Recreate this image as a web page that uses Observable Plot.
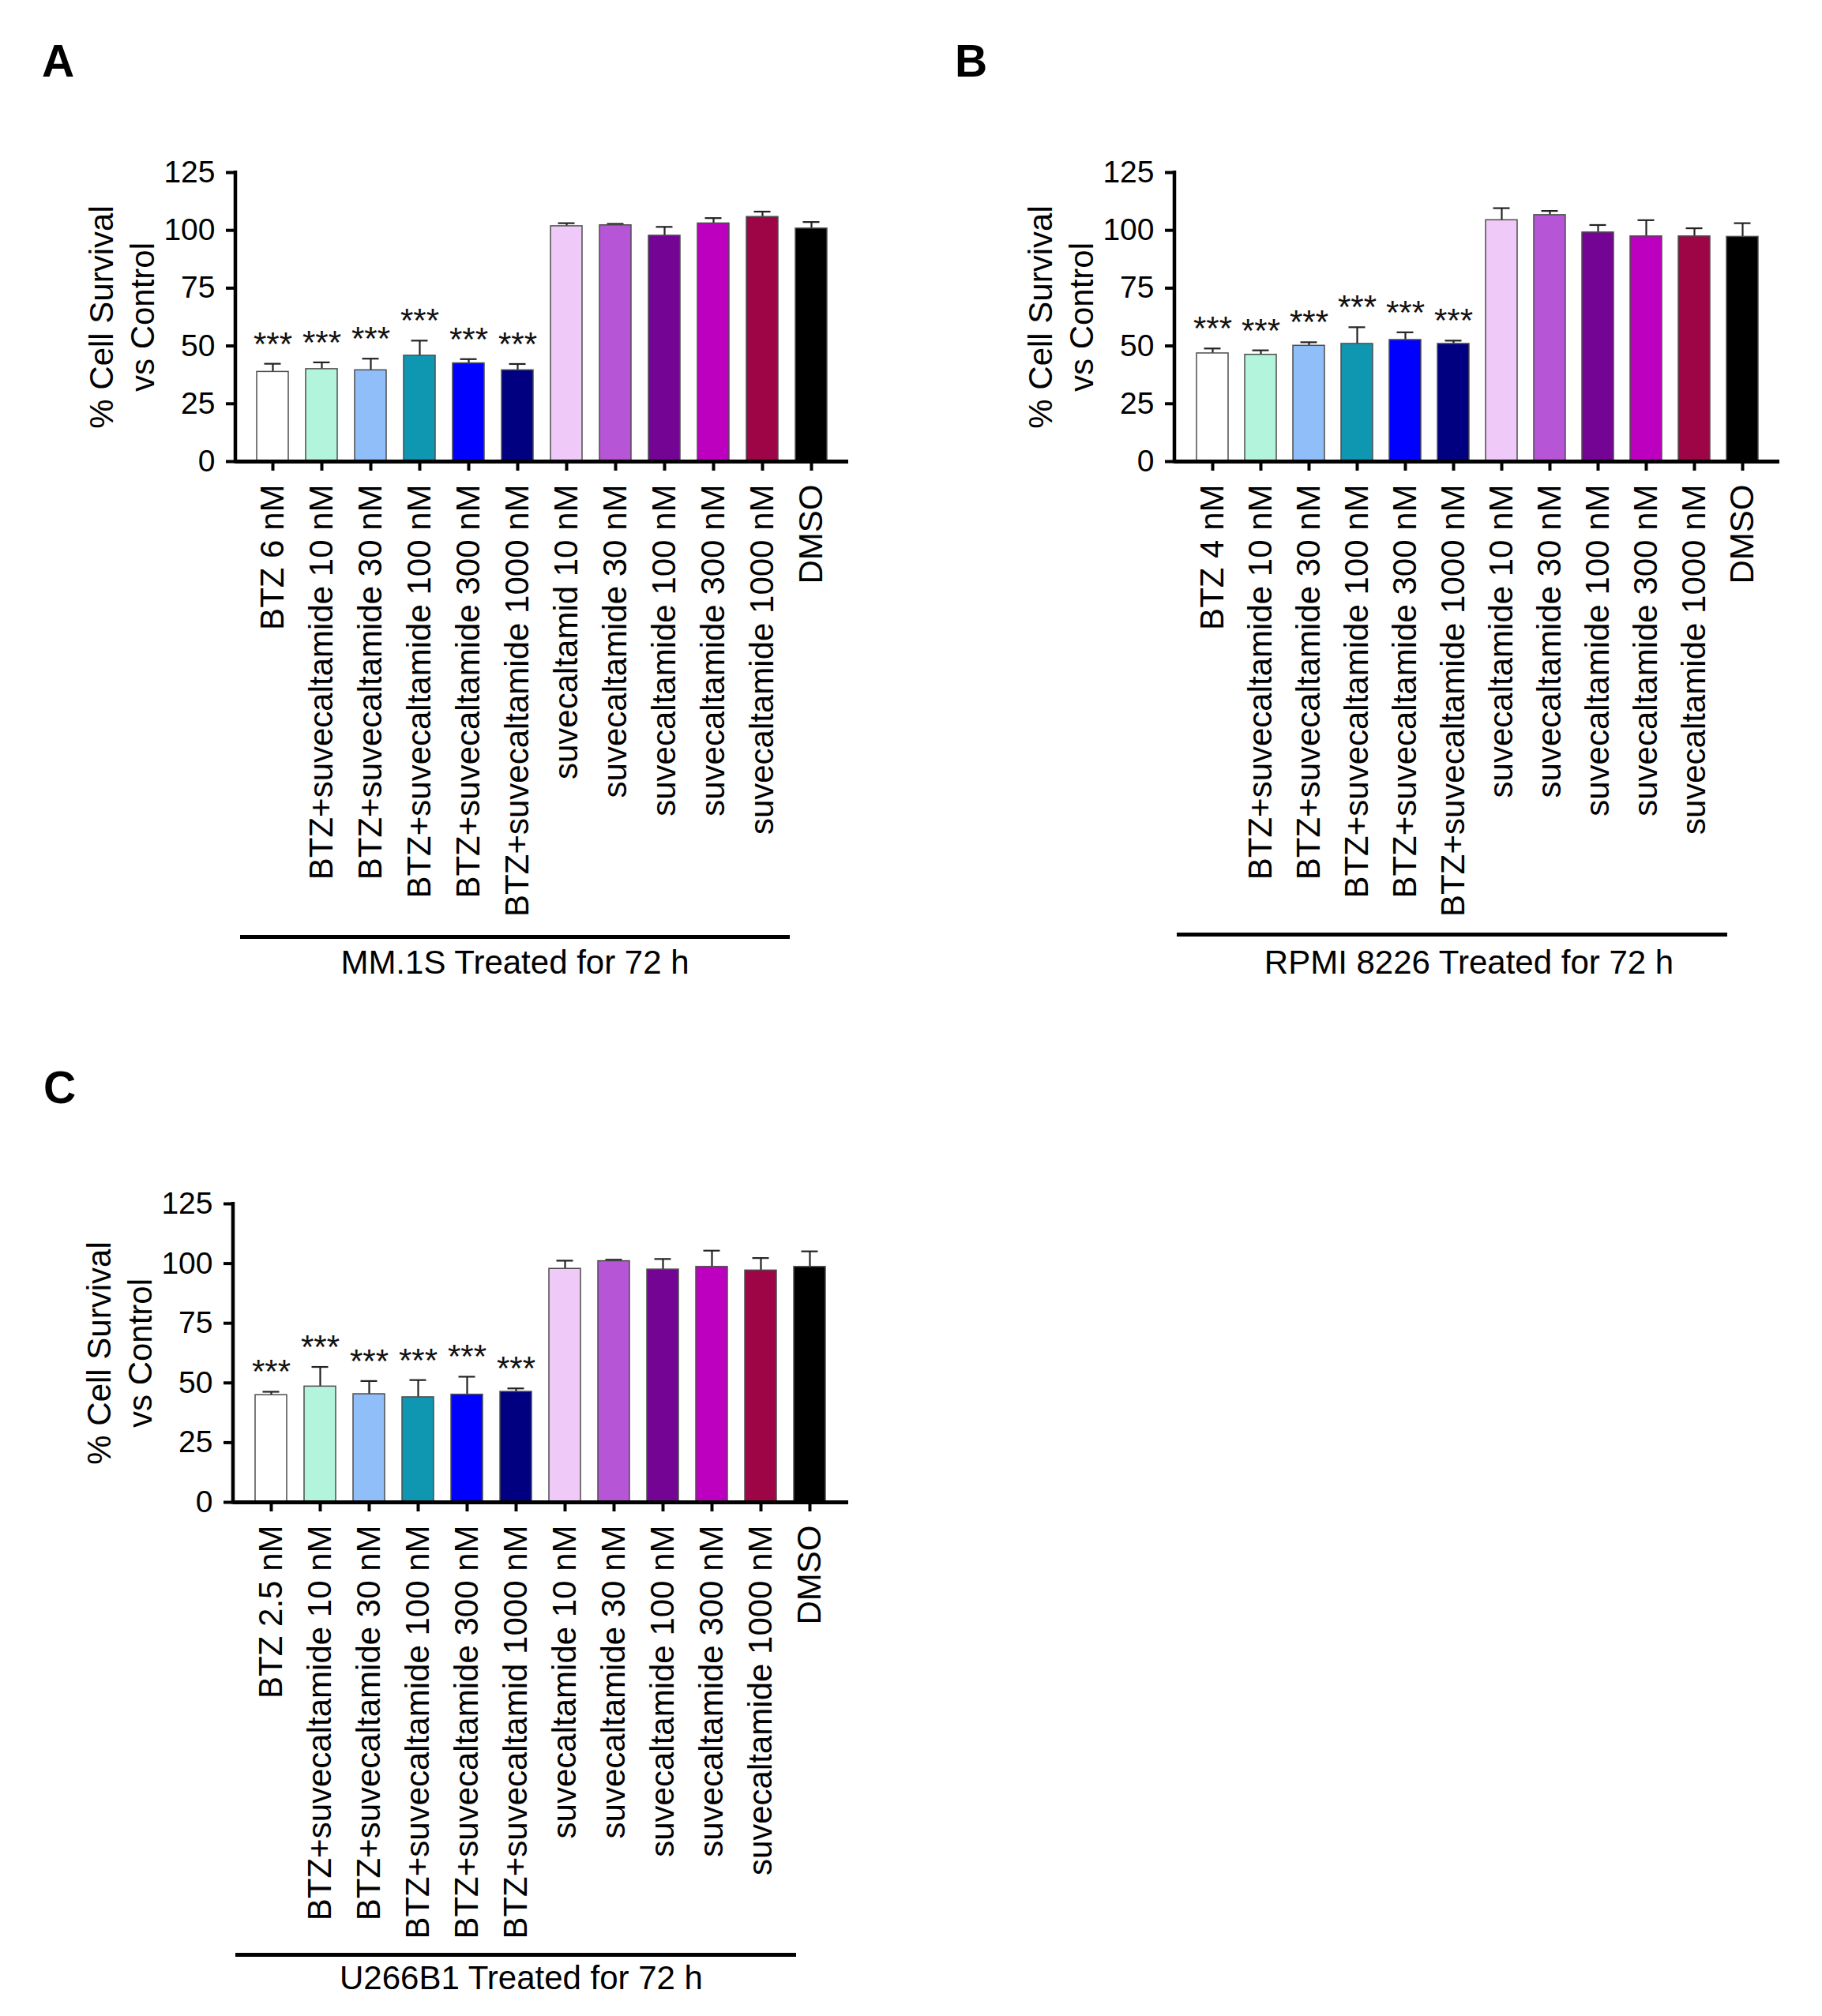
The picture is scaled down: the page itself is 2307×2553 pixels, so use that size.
<!DOCTYPE html>
<html><head><meta charset="utf-8">
<script src="https://cdn.jsdelivr.net/npm/d3@7"></script>
<script src="https://cdn.jsdelivr.net/npm/@observablehq/plot@0.6"></script>
<style>
body{margin:0;background:#fff;}
#page{position:relative;width:2307px;height:2553px;font-family:"Liberation Sans",Arial,sans-serif;color:#000;overflow:hidden;}
.abs{position:absolute;}
.letter{font-weight:bold;font-size:57px;line-height:57px;}
.cap{font-size:42px;line-height:42px;text-align:center;white-space:nowrap;}
.rule{background:#000;height:5px;}
</style></head><body><div id="page"></div>
<script>
// ---- data ----
const labelsA = ["BTZ 6 nM","BTZ+suvecaltamide 10 nM","BTZ+suvecaltamide 30 nM","BTZ+suvecaltamide 100 nM","BTZ+suvecaltamide 300 nM","BTZ+suvecaltamide 1000 nM","suvecaltamid 10 nM","suvecaltamide 30 nM","suvecaltamide 100 nM","suvecaltamide 300 nM","suvecaltamide 1000 nM","DMSO"];
const valuesA = [38.8, 40.0, 39.5, 45.8, 42.5, 39.5, 101.8, 102.2, 97.7, 103.0, 105.8, 100.8];
const errorsA = [3.5, 2.9, 5.0, 6.5, 1.8, 2.7, 1.3, 0.6, 3.8, 2.3, 2.3, 2.8];

const labelsB = ["BTZ 4 nM","BTZ+suvecaltamide 10 nM","BTZ+suvecaltamide 30 nM","BTZ+suvecaltamide 100 nM","BTZ+suvecaltamide 300 nM","BTZ+suvecaltamide 1000 nM","suvecaltamide 10 nM","suvecaltamide 30 nM","suvecaltamide 100 nM","suvecaltamide 300 nM","suvecaltamide 1000 nM","DMSO"];
const valuesB = [46.8, 46.2, 50.1, 50.9, 52.6, 50.9, 104.4, 106.6, 99.1, 97.4, 97.4, 97.2];
const errorsB = [2.1, 1.9, 1.5, 7.2, 3.3, 1.4, 5.2, 1.8, 3.2, 7.0, 3.5, 5.9];

const labelsC = ["BTZ 2.5 nM","BTZ+suvecaltamide 10 nM","BTZ+suvecaltamide 30 nM","BTZ+suvecaltamide 100 nM","BTZ+suvecaltamide 300 nM","BTZ+suvecaltamid 1000 nM","suvecaltamide 10 nM","suvecaltamide 30 nM","suvecaltamide 100 nM","suvecaltamide 300 nM","suvecaltamide 1000 nM","DMSO"];
const valuesC = [44.9, 48.5, 45.3, 44.0, 45.1, 46.3, 97.8, 101.0, 97.5, 98.6, 97.1, 98.6];
const errorsC = [1.4, 8.2, 5.5, 7.2, 7.5, 1.4, 3.4, 0.6, 4.4, 6.8, 5.2, 6.5];

const sigMarks = ["***","***","***","***","***","***","","","","","",""];
const barColors = ["#ffffff","#b3f5dc","#90bef8","#0f96b0","#0000ff","#000080","#efc9f7","#b655d6","#740494","#bd00bf","#9d0547","#000000"];
const yTicks = [0, 25, 50, 75, 100, 125];
const yTitle = "% Cell Survival\nvs Control";
const captions = ["MM.1S Treated for 72 h", "RPMI 8226 Treated for 72 h", "U266B1 Treated for 72 h"];
const letters = ["A", "B", "C"];

const FONT = '"Liberation Sans", Arial, sans-serif';
const page = document.getElementById("page");

function panel(cfg) {
  const data = cfg.labels.map((label, i) => ({label, value: cfg.values[i], err: cfg.errors[i], sig: sigMarks[i], color: barColors[i]}));
  const yAxisLine = (index, scales, values, dims) => {
    const l = document.createElementNS("http://www.w3.org/2000/svg", "line");
    l.setAttribute("x1", dims.marginLeft);
    l.setAttribute("x2", dims.marginLeft);
    l.setAttribute("y1", scales.y(0) + 2.5);
    l.setAttribute("y2", scales.y(125) - 2);
    l.setAttribute("stroke", "#000");
    l.setAttribute("stroke-width", 4.5);
    return l;
  };
  const chart = Plot.plot({
    width: cfg.width, height: cfg.height,
    marginLeft: cfg.ml, marginRight: cfg.mr, marginTop: cfg.mt, marginBottom: cfg.mb,
    style: {background: "transparent", fontFamily: FONT, color: "#000", overflow: "visible"},
    x: {domain: cfg.labels, paddingInner: 0.35, paddingOuter: 0.375, axis: null},
    y: {domain: [0, 125], axis: null},
    color: {type: "identity"},
    marks: [
      Plot.ruleX(data, {x: "label", y1: "value", y2: d => d.value + d.err, stroke: "#222", strokeWidth: 2.2}),
      Plot.tickY(data, {x: "label", y: d => d.value + d.err, stroke: "#222", strokeWidth: 2.2, insetLeft: 9.5, insetRight: 9.5}),
      Plot.barY(data, {x: "label", y: "value", fill: "color", stroke: "#4d4d4d", strokeWidth: 1.5}),
      Plot.text(data.filter(d => d.sig), {x: "label", y: d => d.value + d.err, text: "sig", lineAnchor: "bottom", dy: -11, fontSize: 42, fill: "#111"}),
      Plot.ruleY([0], {stroke: "#000", strokeWidth: 5}),
      yAxisLine,
      Plot.axisY({ticks: yTicks, tickSize: 12, tickPadding: 14, strokeWidth: 4, fontSize: 39, tickFormat: d => String(d), label: null}),
      Plot.axisX({tickSize: 12, strokeWidth: 4, tickRotate: -90, fontSize: 42, tickPadding: 17, label: null}),
      Plot.text([yTitle], {frameAnchor: "left", textAnchor: "middle", rotate: -90, dx: -146, fontSize: 42, lineHeight: 1.22})
    ]
  });
  const wrap = document.createElement("div");
  wrap.className = "abs";
  wrap.style.left = cfg.left + "px";
  wrap.style.top = cfg.top + "px";
  wrap.style.width = cfg.width + "px";
  wrap.appendChild(chart);
  page.appendChild(wrap);

  const letter = document.createElement("div");
  letter.className = "abs letter";
  letter.style.left = cfg.letterX + "px";
  letter.style.top = cfg.letterY + "px";
  letter.textContent = cfg.letter;
  page.appendChild(letter);

  const rule = document.createElement("div");
  rule.className = "abs rule";
  rule.style.left = cfg.ruleX + "px";
  rule.style.width = cfg.ruleW + "px";
  rule.style.top = cfg.ruleY + "px";
  page.appendChild(rule);

  const cap = document.createElement("div");
  cap.className = "abs cap";
  cap.style.left = (cfg.capX - 500) + "px";
  cap.style.width = "1000px";
  cap.style.top = cfg.capY + "px";
  cap.textContent = cfg.caption;
  page.appendChild(cap);
}

panel({labels: labelsA, values: valuesA, errors: errorsA, letter: letters[0], caption: captions[0],
  left: 0, top: 0, width: 1100, height: 1180, ml: 298, mr: 26, mt: 218, mb: 596,
  letterX: 53, letterY: 49, ruleX: 304, ruleW: 696, ruleY: 1184, capX: 652, capY: 1198});
panel({labels: labelsB, values: valuesB, errors: errorsB, letter: letters[1], caption: captions[1],
  left: 1189, top: 0, width: 1090, height: 1180, ml: 298, mr: 26, mt: 218, mb: 596,
  letterX: 1209, letterY: 49, ruleX: 1490, ruleW: 697, ruleY: 1181, capX: 1860, capY: 1198});
panel({labels: labelsC, values: valuesC, errors: errorsC, letter: letters[2], caption: captions[2],
  left: 0, top: 1300, width: 1100, height: 1180, ml: 295, mr: 26, mt: 224, mb: 578,
  letterX: 55, letterY: 1349, ruleX: 298, ruleW: 710, ruleY: 2473, capX: 660, capY: 2484});
</script></body></html>
